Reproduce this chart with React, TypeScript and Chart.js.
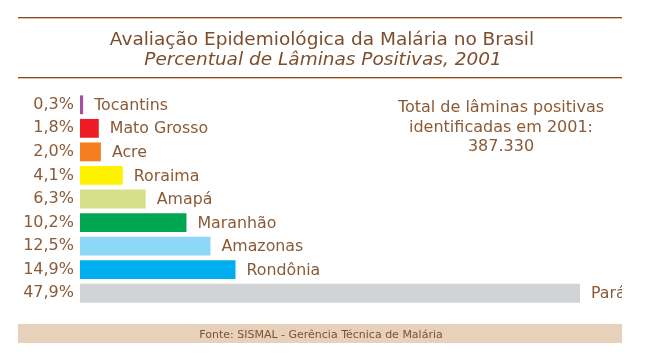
import React, { useEffect, useRef } from "react";
import { Chart, registerables } from "chart.js";

Chart.register(...registerables);

const states = ["Tocantins", "Mato Grosso", "Acre", "Roraima", "Amapá", "Maranhão", "Amazonas", "Rondônia", "Pará"];
const percentages = [0.3, 1.8, 2.0, 4.1, 6.3, 10.2, 12.5, 14.9, 47.9];
const barColors = ["#a3519b", "#ed1c24", "#f47f20", "#fff200", "#d4e18a", "#00a651", "#8dd7f7", "#00aeef", "#d1d3d4"];
const titleText = "Avaliação Epidemiológica da Malária no Brasil";
const subtitleText = "Percentual de Lâminas Positivas, 2001";
const noteLines = ["Total de lâminas positivas", "identificadas em 2001:", "387.330"];
const sourceText = "Fonte: SISMAL - Gerência Técnica de Malária";

const BROWN = "#8a5a36";
const FONT = "'DejaVu Sans', Verdana, sans-serif";

const fmt = (v: number) => v.toFixed(1).replace(".", ",") + "%";

const decorPlugin = {
  id: "decor",
  beforeDraw(chart: any) {
    const ctx = chart.ctx;
    ctx.save();
    // rules
    ctx.fillStyle = "#8b4a1f";
    ctx.fillRect(18, 17, 604, 1);
    ctx.fillRect(18, 77, 604, 1);
    ctx.fillStyle = "#dcbfa3";
    ctx.fillRect(18, 18, 604, 1);
    ctx.fillRect(18, 78, 604, 1);
    // titles
    ctx.fillStyle = "#7d4d2c";
    ctx.textAlign = "center";
    ctx.textBaseline = "alphabetic";
    ctx.font = `18.5px ${FONT}`;
    ctx.fillText(titleText, 322, 45);
    ctx.font = `italic 18.5px ${FONT}`;
    ctx.fillText(subtitleText, 323, 65);
    // footer band
    ctx.fillStyle = "#e8d1ba";
    ctx.fillRect(18, 324, 604, 19);
    ctx.fillStyle = "#7d5234";
    ctx.font = `11px ${FONT}`;
    ctx.fillText(sourceText, 321, 338);
    // note
    ctx.fillStyle = BROWN;
    ctx.font = `16px ${FONT}`;
    ctx.textBaseline = "middle";
    noteLines.forEach((t, i) => ctx.fillText(t, 501, 108 + i * 19.5));
    ctx.restore();
  },
  afterDatasetsDraw(chart: any) {
    const ctx = chart.ctx;
    const meta = chart.getDatasetMeta(0);
    ctx.save();
    ctx.fillStyle = BROWN;
    ctx.font = `15.8px ${FONT}`;
    ctx.textAlign = "left";
    ctx.textBaseline = "middle";
    meta.data.forEach((bar: any, i: number) => {
      ctx.fillText(states[i], bar.x + 11, bar.y + 1);
    });
    ctx.restore();
  },
};

export default function App() {
  const ref = useRef<HTMLCanvasElement | null>(null);
  useEffect(() => {
    document.body.style.margin = "0";
    document.body.style.background = "#ffffff";
    const chart = new Chart(ref.current as HTMLCanvasElement, {
      type: "bar",
      data: {
        labels: states,
        datasets: [
          {
            data: percentages,
            backgroundColor: barColors,
            borderWidth: 0,
            barPercentage: 0.8,
            categoryPercentage: 1,
          },
        ],
      },
      options: {
        indexAxis: "y",
        responsive: false,
        animation: false,
        layout: { padding: { top: 93, bottom: 58, left: 0, right: 41 } },
        plugins: {
          legend: { display: false },
          tooltip: { enabled: false },
          title: { display: false },
        },
        scales: {
          x: { display: false, min: 0, max: 48 },
          y: {
            afterFit: (scale: any) => {
              scale.width = 80;
            },
            grid: { display: false, drawTicks: false },
            border: { display: false },
            ticks: {
              padding: 6,
              color: BROWN,
              font: { family: FONT, size: 16 },
              callback: (_v: any, i: number) => fmt(percentages[i]),
            },
          },
        },
      },
      plugins: [decorPlugin],
    });
    return () => chart.destroy();
  }, []);
  return (
    <div style={{ position: "absolute", left: 0, top: 0, width: 654, height: 363, background: "#fff" }}>
      <canvas ref={ref} width={622} height={363} style={{ display: "block" }} />
    </div>
  );
}
